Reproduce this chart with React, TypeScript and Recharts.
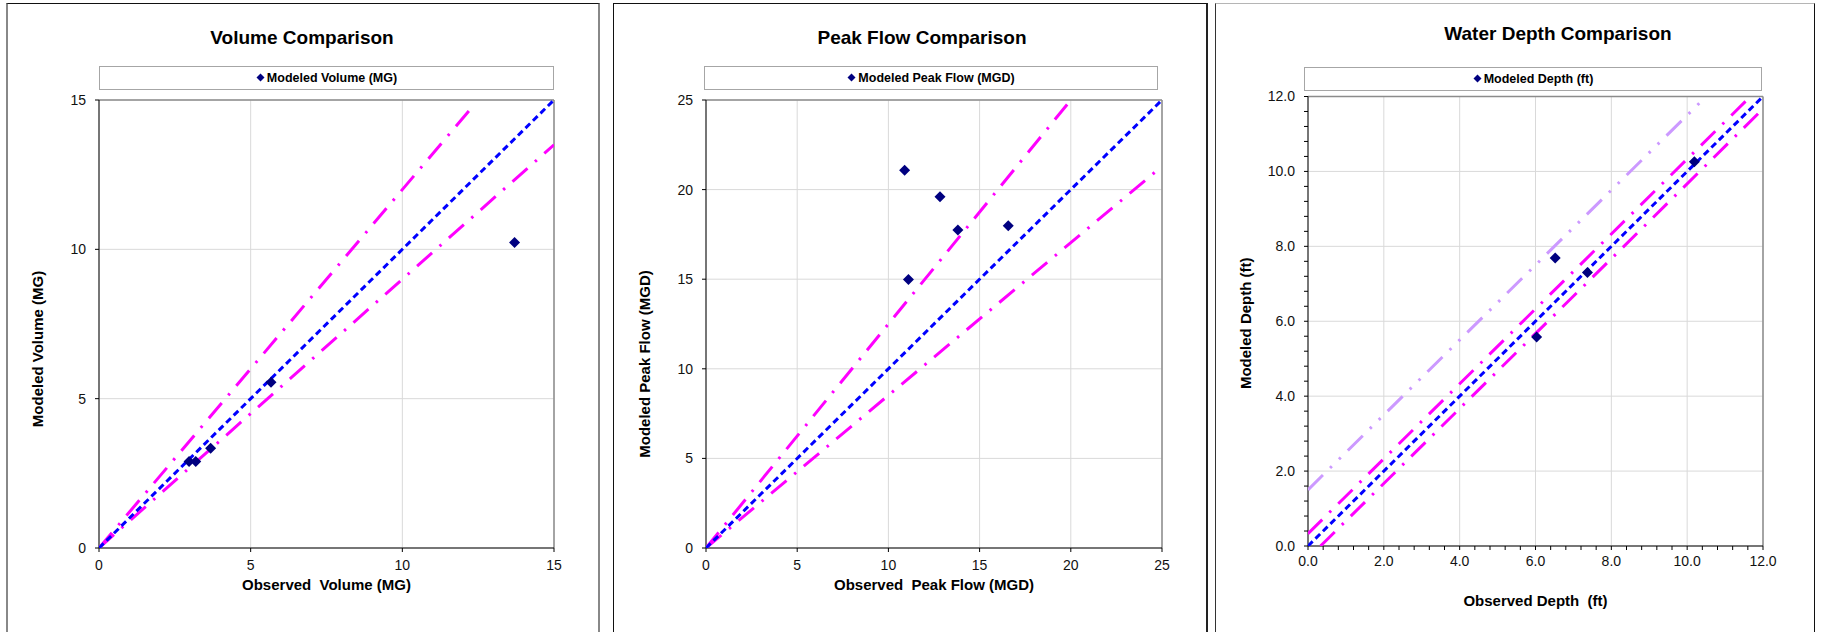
import { ScatterChart, Scatter, XAxis, YAxis, CartesianGrid, ReferenceLine } from 'recharts'

type Pair = [number, number]

// volume comparison (MG)
const volObserved = [2.97, 3.19, 3.68, 5.67, 13.7]
const volModeled = [2.9, 2.9, 3.34, 5.55, 10.23]
const volTicks = [0, 5, 10, 15]
const volOneToOne: Pair[] = [[0, 0], [15, 15]]
const volUpper: Pair[] = [[0, 0], [12.4, 14.88]]
const volLower: Pair[] = [[0, 0], [15, 13.5]]

// peak flow comparison (MGD)
const flowObserved = [10.89, 12.83, 13.81, 16.57, 11.1]
const flowModeled = [21.08, 19.6, 17.75, 17.98, 14.99]
const flowTicks = [0, 5, 10, 15, 20, 25]
const flowOneToOne: Pair[] = [[0, 0], [25, 25]]
const flowUpper: Pair[] = [[0, 0], [19.8, 24.75]]
const flowLower: Pair[] = [[0, 0], [25, 21.3]]

// water depth comparison (ft)
const depthObserved = [6.03, 6.52, 7.37, 10.19]
const depthModeled = [5.58, 7.69, 7.3, 10.26]
const depthTicks = [0, 2, 4, 6, 8, 10, 12]
const depthMinorTicks = [
  0, 0.4, 0.8, 1.2, 1.6, 2, 2.4, 2.8, 3.2, 3.6, 4, 4.4, 4.8, 5.2, 5.6, 6,
  6.4, 6.8, 7.2, 7.6, 8, 8.4, 8.8, 9.2, 9.6, 10, 10.4, 10.8, 11.2, 11.6, 12,
]
const depthOneToOne: Pair[] = [[0, 0], [12, 12]]
const depthUpper: Pair[] = [[0, 0.33], [11.67, 12]]
const depthLower: Pair[] = [[0.33, 0], [12, 11.67]]
const depthOffset: Pair[] = [[0, 1.5], [10.5, 12]]

const FONT = '"Liberation Sans", Arial, sans-serif'
const NAVY = '#000080'
const BLUE = '#0000ff'
const MAGENTA = '#ff00ff'
const LAVENDER = '#cc99ff'
const DASH = '6.5 4'
const DASH_DOT = '20 10 2.5 10'
const DASH_DOT_DOT = '21 10 2.5 10 2.5 10'

const toPts = (xs: number[], ys: number[]) => xs.map((x, i) => ({ x, y: ys[i] }))
const pairPts = (p: Pair[]) => p.map(([x, y]) => ({ x, y }))

const Diamond = (p: any) => {
  const { cx, cy } = p
  if (cx == null || cy == null) return <g />
  const r = 5.5
  return <polygon points={`${cx},${cy - r} ${cx + r},${cy} ${cx},${cy + r} ${cx - r},${cy}`} fill={NAVY} />
}
const NoDot = () => <g />

interface RefLine {
  pts: Pair[]
  color: string
  dash: string
}

interface Cfg {
  title: string
  titleX: number
  titleY: number
  legend: string
  legendBox: { left: number; top: number; width: number }
  left: number
  width: number
  right: number
  plotTop: number
  plotBottom: number
  max: number
  ticks: number[]
  axisTicks?: number[]
  fmt: (v: number) => string
  xTitle: string
  xTitleBaseline: number
  yTitle: string
  yTitleX: number
  yTitleDy: number
  xTickMargin: number
  pts: { x: number; y: number }[]
  lines: RefLine[]
}

const intFmt = (v: number) => String(v)
const depthFmt = (v: number) => (depthTicks.some(t => Math.abs(t - v) < 1e-6) ? v.toFixed(1) : '')

const panels: Cfg[] = [
  {
    title: 'Volume Comparison', titleX: 302, titleY: 38,
    legend: 'Modeled Volume (MG)', legendBox: { left: 99, top: 66, width: 455 },
    left: 7, width: 593, right: 46, plotTop: 100, plotBottom: 548,
    max: 15, ticks: volTicks, fmt: intFmt,
    xTitle: 'Observed\u00a0 Volume (MG)', xTitleBaseline: 590,
    yTitle: 'Modeled Volume (MG)', yTitleX: 30, yTitleDy: 25, xTickMargin: 8,
    pts: toPts(volObserved, volModeled),
    lines: [
      { pts: volUpper, color: MAGENTA, dash: DASH_DOT },
      { pts: volLower, color: MAGENTA, dash: DASH_DOT },
      { pts: volOneToOne, color: BLUE, dash: DASH },
    ],
  },
  {
    title: 'Peak Flow Comparison', titleX: 922, titleY: 38,
    legend: 'Modeled Peak Flow (MGD)', legendBox: { left: 704, top: 66, width: 454 },
    left: 614, width: 592, right: 44, plotTop: 100, plotBottom: 548,
    max: 25, ticks: flowTicks, fmt: intFmt,
    xTitle: 'Observed\u00a0 Peak Flow (MGD)', xTitleBaseline: 590,
    yTitle: 'Modeled Peak Flow (MGD)', yTitleX: 30, yTitleDy: 40, xTickMargin: 8,
    pts: toPts(flowObserved, flowModeled),
    lines: [
      { pts: flowUpper, color: MAGENTA, dash: DASH_DOT },
      { pts: flowLower, color: MAGENTA, dash: DASH_DOT },
      { pts: flowOneToOne, color: BLUE, dash: DASH },
    ],
  },
  {
    title: 'Water Depth Comparison', titleX: 1558, titleY: 34,
    legend: 'Modeled Depth (ft)', legendBox: { left: 1304, top: 67, width: 458 },
    left: 1216, width: 597, right: 50, plotTop: 96.5, plotBottom: 546,
    max: 12, ticks: depthTicks, axisTicks: depthMinorTicks, fmt: depthFmt,
    xTitle: 'Observed Depth\u00a0 (ft)', xTitleBaseline: 606,
    yTitle: 'Modeled Depth (ft)', yTitleX: 29, yTitleDy: 2, xTickMargin: 6,
    pts: toPts(depthObserved, depthModeled),
    lines: [
      { pts: depthOffset, color: LAVENDER, dash: DASH_DOT_DOT },
      { pts: depthUpper, color: MAGENTA, dash: DASH_DOT },
      { pts: depthLower, color: MAGENTA, dash: DASH_DOT },
      { pts: depthOneToOne, color: BLUE, dash: DASH },
    ],
  },
]

function Panel({ cfg }: { cfg: Cfg }) {
  const h = 632
  const xAxisH = h - cfg.plotBottom
  const axisTicks = cfg.axisTicks ?? cfg.ticks
  const tickStyle = { fontSize: 14, fill: '#111', fontFamily: FONT }
  return (
    <>
      <div style={{
        position: 'absolute', left: cfg.titleX - 200, top: cfg.titleY - 11, width: 400,
        textAlign: 'center', fontFamily: FONT, fontWeight: 'bold', fontSize: 19, lineHeight: '22px', color: '#000',
      }}>
        {cfg.title}
      </div>
      <div style={{
        position: 'absolute', left: cfg.legendBox.left, top: cfg.legendBox.top, width: cfg.legendBox.width,
        height: 23.5, border: '1px solid #a6a6a6', boxSizing: 'border-box', display: 'flex',
        alignItems: 'center', justifyContent: 'center', fontFamily: FONT, fontWeight: 'bold', fontSize: 12.5, color: '#000',
      }}>
        <svg width={9} height={9} style={{ marginRight: 2 }}>
          <polygon points="4.5,0.5 8.5,4.5 4.5,8.5 0.5,4.5" fill={NAVY} />
        </svg>
        {cfg.legend}
      </div>
      <div style={{ position: 'absolute', left: cfg.left, top: 0 }}>
        <ScatterChart
          width={cfg.width}
          height={h}
          margin={{ top: cfg.plotTop, right: cfg.right, bottom: 0, left: 0 }}
          style={{ fontFamily: FONT }}
        >
          <CartesianGrid stroke="#d9d9d9" horizontalValues={cfg.ticks} verticalValues={cfg.ticks} />
          <XAxis
            type="number"
            dataKey="x"
            domain={[0, cfg.max]}
            ticks={axisTicks}
            interval={0}
            tickFormatter={cfg.fmt}
            height={xAxisH}
            stroke="#000"
            fontSize={14}
            tickSize={4}
            tickMargin={cfg.xTickMargin}
            tick={tickStyle}
            allowDataOverflow
            label={{
              value: cfg.xTitle,
              position: 'insideBottom',
              offset: h - cfg.xTitleBaseline,
              style: { fontSize: 15, fontWeight: 'bold', fill: '#000', fontFamily: FONT },
            }}
          />
          <YAxis
            type="number"
            dataKey="y"
            domain={[0, cfg.max]}
            ticks={axisTicks}
            interval={0}
            tickFormatter={cfg.fmt}
            width={92}
            stroke="#000"
            fontSize={14}
            tickSize={4}
            tickMargin={9}
            tick={tickStyle}
            allowDataOverflow
            label={{
              value: cfg.yTitle,
              content: (p: any) => {
                const vb = p.viewBox || { x: 0, y: 0, height: 0 }
                const cx = vb.x + cfg.yTitleX
                const cy = vb.y + vb.height / 2 + cfg.yTitleDy
                return (
                  <text
                    x={cx} y={cy} transform={`rotate(-90 ${cx} ${cy})`}
                    textAnchor="middle" dominantBaseline="central"
                    style={{ fontSize: 15, fontWeight: 'bold', fill: '#000', fontFamily: FONT }}
                  >
                    {cfg.yTitle}
                  </text>
                )
              },
            }}
          />
          <ReferenceLine y={cfg.max} stroke="#8c8c8c" strokeWidth={1.5} />
          <ReferenceLine x={cfg.max} stroke="#8c8c8c" strokeWidth={1.5} />
          {cfg.lines.map((l, i) => (
            <Scatter
              key={i}
              data={pairPts(l.pts)}
              shape={NoDot}
              fill={l.color}
              line={{ stroke: l.color, strokeWidth: 3, strokeDasharray: l.dash }}
              isAnimationActive={false}
            />
          ))}
          <Scatter data={cfg.pts} shape={Diamond} fill={NAVY} isAnimationActive={false} />
        </ScatterChart>
      </div>
    </>
  )
}

export default function App() {
  return (
    <div style={{ position: 'absolute', left: 0, top: 0, width: 1822, height: 632, overflow: 'hidden', background: '#fff' }}>
      {/* sheet frames */}
      <div style={{ position: 'absolute', left: 6, top: 3, width: 594, height: 640, borderTop: '1px solid #111', borderLeft: '2px solid #888', borderRight: '2px solid #888', boxSizing: 'border-box' }} />
      <div style={{ position: 'absolute', left: 613, top: 3, width: 595, height: 640, borderTop: '1px solid #111', borderLeft: '1px solid #111', borderRight: '2px solid #222', boxSizing: 'border-box' }} />
      <div style={{ position: 'absolute', left: 1215, top: 3, width: 600, height: 640, borderTop: '1px solid #b5b5b5', borderLeft: '1px solid #333', borderRight: '1.5px solid #111', boxSizing: 'border-box' }} />
      {panels.map(p => <Panel key={p.title} cfg={p} />)}
    </div>
  )
}
